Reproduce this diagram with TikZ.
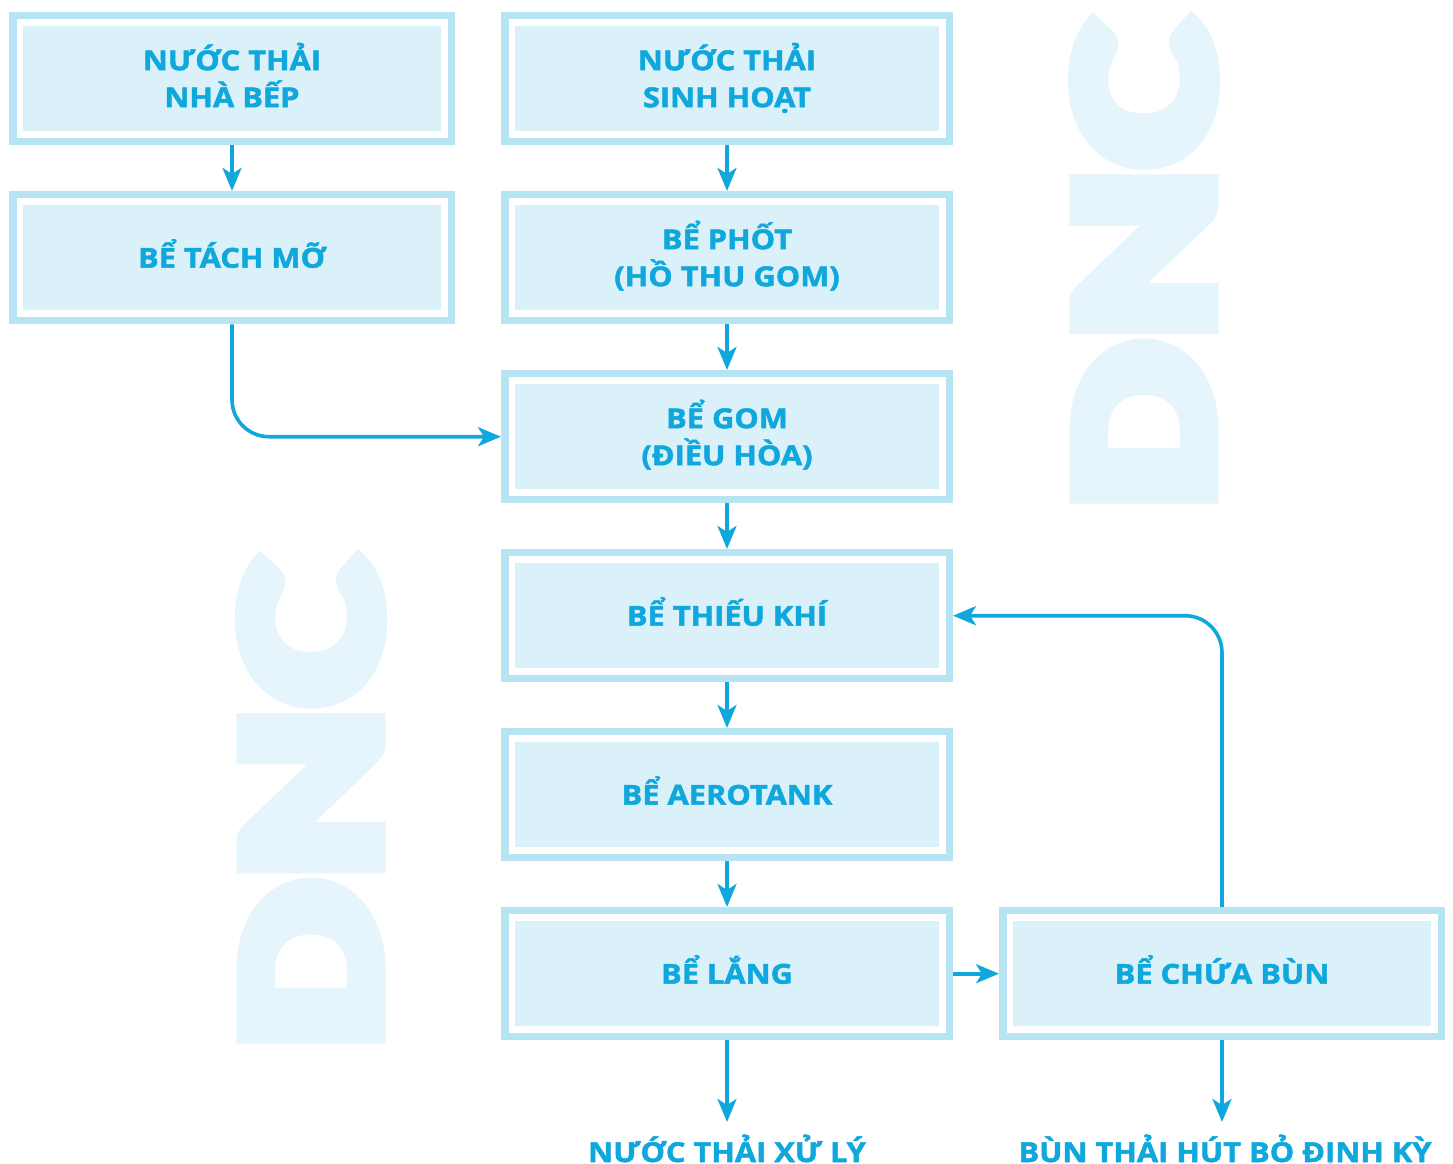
\documentclass[tikz,border=0pt]{standalone}
\usepackage{fontspec}
\usepackage{graphicx}
\setmainfont{Open Sans}
\newfontfamily\boxfont{Open Sans Bold}[FakeStretch=1.12,FakeBold=1.8]
\newfontfamily\wmfont{Lato Black}[FakeBold=8]
\usetikzlibrary{arrows.meta}
\definecolor{edgeblue}{HTML}{B7E4F3}
\definecolor{fillblue}{HTML}{DAF1FA}
\definecolor{inkblue}{HTML}{10A8DC}
\definecolor{wmblue}{HTML}{E6F5FB}
\tikzset{
  x=1pt,y=-1pt,
  outerbox/.style={draw=edgeblue,line width=7.5pt,fill=white,minimum height=126pt,inner sep=0pt},
  widebox/.style={outerbox,minimum width=438.5pt},
  midbox/.style={outerbox,minimum width=444.5pt},
  innerbox/.style={fill=fillblue,minimum height=105pt,inner sep=0pt,align=center,text=inkblue,
    text depth=0pt,text height=20pt,font=\fontsize{27.5}{37}\boxfont\selectfont},
  twolines/.style={text height=57pt},
  wideinner/.style={innerbox,minimum width=418pt},
  midinner/.style={innerbox,minimum width=424pt},
  flow/.style={draw=inkblue,line width=3.6pt,-{Stealth[length=23pt,width=19pt,inset=6pt]}},
  endlabel/.style={text=inkblue,font=\fontsize{27.5}{37}\boxfont\selectfont,inner sep=0pt,text depth=0pt,text height=20pt},
  watermark/.style={text=wmblue,rotate=90,inner sep=0pt,font=\wmfont},
}
\begin{document}
\begin{tikzpicture}
\useasboundingbox (0,0) rectangle (1453,1164);
% watermarks
\node[watermark] (wmA) at (1144,266) {\resizebox{488pt}{136pt}{DNC}};
\node[watermark] (wmB) at (311,805) {\resizebox{490pt}{136pt}{DNC}};
% boxes
\node[widebox] (kitchen) at (232,78.7) {};
\node[wideinner,twolines] (kitchenT) at (kitchen) {NƯỚC THẢI\\NHÀ BẾP};
\node[widebox] (grease) at (232,257.7) {};
\node[wideinner] (greaseT) at (grease) {BỂ TÁCH MỠ};
\node[midbox] (domestic) at (727,78.7) {};
\node[midinner,twolines] (domesticT) at (domestic) {NƯỚC THẢI\\SINH HOẠT};
\node[midbox] (septic) at (727,257.7) {};
\node[midinner,twolines] (septicT) at (septic) {BỂ PHỐT\\(HỒ THU GOM)};
\node[midbox] (gom) at (727,436.7) {};
\node[midinner,twolines] (gomT) at (gom) {BỂ GOM\\(ĐIỀU HÒA)};
\node[midbox] (anox) at (727,615.7) {};
\node[midinner] (anoxT) at (anox) {BỂ THIẾU KHÍ};
\node[midbox] (aero) at (727,794.7) {};
\node[midinner] (aeroT) at (aero) {BỂ AEROTANK};
\node[midbox] (settle) at (727,973.7) {};
\node[midinner] (settleT) at (settle) {BỂ LẮNG};
\node[widebox] (sludge) at (1222,973.7) {};
\node[wideinner] (sludgeT) at (sludge) {BỂ CHỨA BÙN};
% end labels
\node[endlabel] (outWater) at (727,1152) {NƯỚC THẢI XỬ LÝ};
\node[endlabel] (outSludge) at (1225,1152) {BÙN THẢI HÚT BỎ ĐỊNH KỲ};
\coordinate (outWaterTip) at (727,1122);
\coordinate (outSludgeTip) at (1222,1122);
% connectors
\draw[flow] (kitchen) -- (grease);
\draw[flow] (domestic) -- (septic);
\draw[flow] (septic) -- (gom);
\draw[flow] (gom) -- (anox);
\draw[flow] (anox) -- (aero);
\draw[flow] (aero) -- (settle);
\draw[flow] (settle) -- (sludge);
\draw[flow] (settle.south) -- (outWaterTip);
\draw[flow] (sludge.south) -- (outSludgeTip);
\draw[flow,rounded corners=37pt] (grease.south) |- (gom.west);
\draw[flow,rounded corners=37pt] (sludge.north) |- (anox.east);
\end{tikzpicture}
\end{document}
